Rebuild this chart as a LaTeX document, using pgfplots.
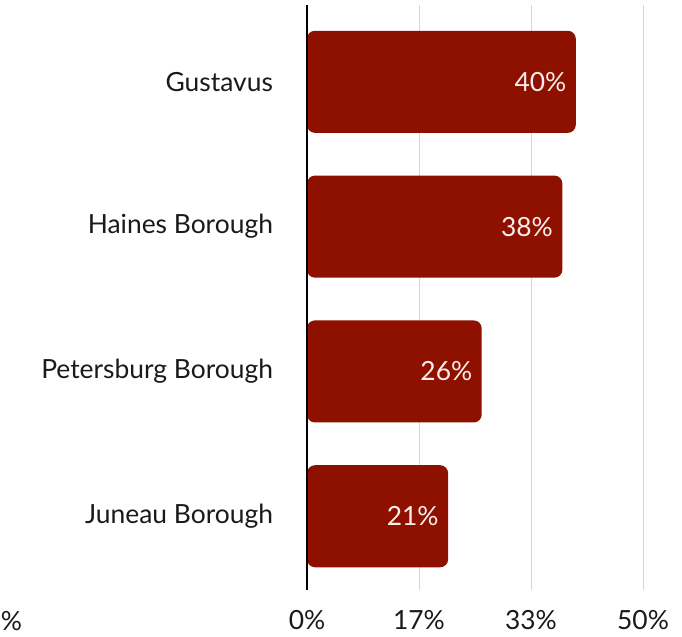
\documentclass[border=0pt]{standalone}
\usepackage{pgfplots}
\pgfplotsset{compat=1.18}
\usepackage{fontspec}
\setmainfont{Lato}
\definecolor{barred}{HTML}{8E1100}
\definecolor{gridgray}{HTML}{D6D6D6}
\definecolor{txt}{HTML}{1A1A1A}
\begin{document}
\begin{tikzpicture}[font=\fontsize{13.2}{15}\selectfont]
\begin{axis}[
  xbar,
  scale only axis,
  width=187.5pt, height=292.5pt,
  xmin=0, xmax=55.8, ymin=-0.51, ymax=3.53,
  axis line style={draw=none},
  ytick={0,1,2,3},
  yticklabels={Juneau Borough, Petersburg Borough, Haines Borough, Gustavus},
  xtick={0,16.667,33.333,50},
  xticklabels={0\%,17\%,33\%,50\%},
  major tick length=0pt,
  tick style={draw=none},
  xmajorgrids,
  grid style={gridgray, line width=0.5pt},
  yticklabel style={anchor=east, xshift=-13.5pt, text=txt},
  xticklabel style={yshift=-6.6pt, text=txt},
  /pgf/number format/assume math mode=true,
  bar width=0.705,
  clip=false,
  nodes near coords={\pgfmathprintnumber{\pgfplotspointmeta}\%},
  nodes near coords style={anchor=east, text=white!93!barred, xshift=-1.2pt},
]
\addplot[fill=barred, draw=none, rounded corners=4pt] coordinates {
  (21,0) (26,1) (38,2) (40,3)
};
\draw[black, line width=1.2pt] (axis cs:0,-0.51) -- (axis cs:0,3.53);
\node[anchor=west, inner sep=0pt, text=txt] at (axis cs:-45.6,-0.724) {\%};
\coordinate (bl) at (axis cs:-45.68,-0.83);
\coordinate (tr) at (axis cs:55.8,3.565);
\end{axis}
\pgfresetboundingbox
\path[use as bounding box] (bl) rectangle (tr);
\end{tikzpicture}
\end{document}
